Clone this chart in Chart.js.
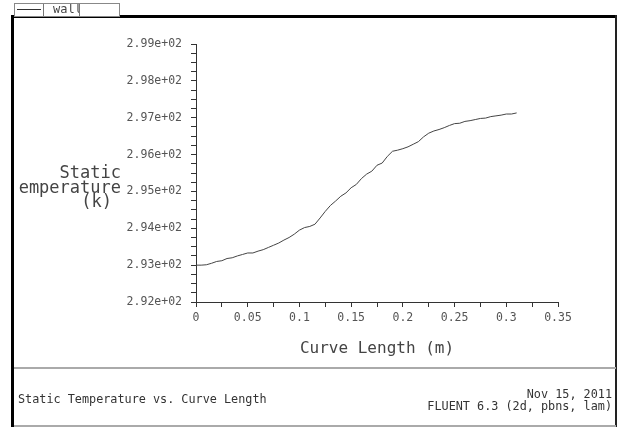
<!DOCTYPE html>
<html>
<head>
<meta charset="utf-8">
<script src="https://cdn.jsdelivr.net/npm/chart.js@4.4.1/dist/chart.umd.min.js"></script>
<style>
  html, body { margin: 0; padding: 0; background: #fff; }
  #wrap { position: relative; width: 620px; height: 427px; overflow: hidden; font-family: "DejaVu Sans Mono", monospace; color: #333; }
  #c { position: absolute; left: 0; top: 0; }
  .frameL { position: absolute; left: 11px; top: 15px; width: 3px; height: 412px; background: #000; }
  .frameT { position: absolute; left: 11px; top: 15px; width: 606px; height: 3px; background: #000; }
  .frameR { position: absolute; left: 615px; top: 15px; width: 2px; height: 412px; background: #222; }
  .legend { position: absolute; left: 14px; top: 3px; width: 104px; height: 12px; border: 1px solid #888; background: #fff; overflow: hidden; }
  .legend .ln { position: absolute; left: 2px; top: 5px; width: 24px; height: 1px; background: #333; }
  .legend .d1 { position: absolute; left: 28px; top: 0; width: 1px; height: 12px; background: #777; }
  .legend .d2 { position: absolute; left: 64px; top: 0; width: 1px; height: 12px; background: #777; }
  .legend .txt { position: absolute; left: 38px; top: -2px; width: 26px; overflow: hidden; font-size: 12px; white-space: nowrap; color: #444; }
  .ytitle { position: absolute; left: 19px; width: 102px; height: 20px; overflow: hidden; font-size: 17px; color: #444; }
  .ytitle span { position: absolute; right: 0; top: 0; white-space: nowrap; }
  .footer { position: absolute; left: 14px; top: 367px; width: 602px; height: 56px; border-top: 2px solid #aaa; border-bottom: 2px solid #aaa; }
  .ft { position: absolute; font-size: 11.8px; white-space: nowrap; color: #333; }
</style>
</head>
<body>
<div id="wrap">
  <canvas id="c" width="620" height="427"></canvas>
  <div class="frameL"></div>
  <div class="frameT"></div>
  <div class="frameR"></div>
  <div class="legend"><div class="ln"></div><div class="d1"></div><div class="txt">wall</div><div class="d2"></div></div>
  <div class="ytitle" style="top:162px;"><span>Static</span></div>
  <div class="ytitle" style="top:177px;"><span>Temperature</span></div>
  <div class="ytitle" style="top:191px; width:93px;"><span>(k)</span></div>
  <div class="footer">
    <div class="ft" style="left:4px; top:23px;">Static Temperature vs. Curve Length</div>
    <div class="ft" style="right:4px; top:18px;">Nov 15, 2011</div>
    <div class="ft" style="right:4px; top:30px;">FLUENT 6.3 (2d, pbns, lam)</div>
  </div>
</div>
<script>
// curve length (m) along the wall
const curveLength = [0, 0.005, 0.010, 0.015, 0.020, 0.025, 0.030, 0.035, 0.040, 0.045,
  0.050, 0.055, 0.060, 0.065, 0.070, 0.075, 0.080, 0.085, 0.090, 0.095,
  0.100, 0.105, 0.110, 0.115, 0.120, 0.125, 0.130, 0.135, 0.140, 0.145,
  0.150, 0.155, 0.160, 0.165, 0.170, 0.175, 0.180, 0.185, 0.190, 0.195,
  0.200, 0.205, 0.210, 0.215, 0.220, 0.225, 0.230, 0.235, 0.240, 0.245,
  0.250, 0.255, 0.260, 0.265, 0.270, 0.275, 0.280, 0.285, 0.290, 0.295,
  0.300, 0.305, 0.310];
// static temperature (k)
const staticTemp = [293.00, 293.00, 293.01, 293.05, 293.10, 293.12, 293.18, 293.20, 293.25, 293.29,
  293.33, 293.33, 293.38, 293.42, 293.48, 293.54, 293.60, 293.68, 293.75, 293.84,
  293.95, 294.02, 294.05, 294.11, 294.28, 294.46, 294.62, 294.74, 294.87, 294.96,
  295.10, 295.19, 295.35, 295.47, 295.55, 295.71, 295.77, 295.95, 296.09, 296.12,
  296.16, 296.21, 296.28, 296.35, 296.48, 296.58, 296.64, 296.68, 296.73, 296.79,
  296.84, 296.85, 296.90, 296.92, 296.95, 296.98, 296.99, 297.03, 297.05, 297.07,
  297.10, 297.10, 297.13];

const yMin = 292, yMax = 299;
const xMin = 0, xMax = 0.35;

const points = curveLength.map((x, i) => ({ x: x, y: staticTemp[i] }));
const tickFont = { family: 'DejaVu Sans Mono', size: 11.5 };

new Chart(document.getElementById('c'), {
  type: 'line',
  data: {
    datasets: [{
      label: 'wall',
      data: points,
      borderColor: '#444',
      borderWidth: 1,
      pointRadius: 0,
      tension: 0
    }]
  },
  options: {
    responsive: false,
    animation: false,
    layout: { padding: { left: 126, right: 62, top: 44, bottom: 65 } },
    plugins: { legend: { display: false }, tooltip: { enabled: false } },
    scales: {
      x: {
        type: 'linear',
        min: xMin, max: xMax,
        afterFit: s => { s.height = 60; },
        border: { color: '#333', width: 1 },
        grid: { drawOnChartArea: false, drawTicks: true, tickLength: 5, color: '#333' },
        ticks: {
          stepSize: 0.025,
          autoSkip: false,
          maxRotation: 0,
          padding: 4,
          color: '#555',
          font: tickFont,
          callback: v => {
            const k = v * 20;
            if (Math.abs(k - Math.round(k)) > 1e-6) return '';
            return String(Math.round(v * 100) / 100);
          }
        },
        title: {
          display: true,
          text: 'Curve Length (m)',
          color: '#444',
          font: { family: 'DejaVu Sans Mono', size: 16 },
          padding: { top: 6 }
        }
      },
      y: {
        type: 'linear',
        min: yMin, max: yMax,
        afterFit: s => { s.width = 70; },
        border: { color: '#333', width: 1 },
        grid: { drawOnChartArea: false, drawTicks: true, tickLength: 5, color: '#333' },
        ticks: {
          stepSize: 0.25,
          autoSkip: false,
          padding: 9,
          color: '#555',
          font: tickFont,
          callback: v => {
            if (Math.abs(v - Math.round(v)) > 1e-6) return '';
            return Math.round(v).toExponential(2).replace('e+2', 'e+02');
          }
        }
      }
    }
  }
});
</script>
</body>
</html>
